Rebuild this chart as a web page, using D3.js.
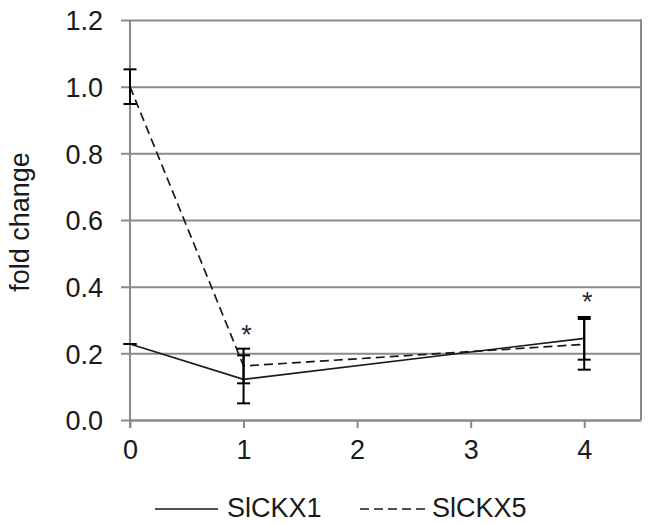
<!DOCTYPE html>
<html>
<head>
<meta charset="utf-8">
<script src="https://cdn.jsdelivr.net/npm/d3@7"></script>
<style>
  html, body { margin: 0; padding: 0; background: #fff; }
  svg { display: block; font-family: "Liberation Sans", Arial, sans-serif; }
</style>
</head>
<body>
<svg id="chart" width="648" height="524"></svg>
<script>
// ---- data ----
const days = [0, 1, 4];
const seriesNames = ["SlCKX1", "SlCKX5"];
const ckx1Values = [0.228, 0.122, 0.245];
const ckx1Errors = [0, 0.072, 0.064];
const ckx5Values = [1.0, 0.162, 0.227];
const ckx5Errors = [0.052, 0.052, 0.076];
const sigDays = [1, 4];
const sigLevels = [0.273, 0.373];
const yTicks = [0.0, 0.2, 0.4, 0.6, 0.8, 1.0, 1.2];
const xTicks = [0, 1, 2, 3, 4];

// ---- layout ----
const W = 648, H = 524;
const m = { left: 130, right: 7, top: 20, bottom: 104 };
const svg = d3.select("#chart");
const gridColor = "#8a8a8a";
const fontSize = 27;

const x = d3.scaleLinear().domain([0, 4.5]).range([m.left, W - m.right]);
const y = d3.scaleLinear().domain([0, 1.2]).range([H - m.bottom, m.top]);

// y axis with gridlines
const yAxis = d3.axisLeft(y)
  .tickValues(yTicks)
  .tickFormat(d3.format(".1f"))
  .tickSize(-(W - m.right - m.left))
  .tickSizeOuter(0)
  .tickPadding(0);
const gy = svg.append("g").attr("transform", `translate(${m.left},0)`).call(yAxis);
gy.select(".domain").remove();
gy.selectAll(".tick line")
  .attr("x1", -9)
  .attr("stroke", gridColor).attr("stroke-width", 2);
gy.selectAll(".tick text")
  .attr("x", -27)
  .attr("dy", "0.36em")
  .attr("fill", "#1a1a1a")
  .style("font-size", fontSize + "px")
  .style("font-family", "'Liberation Sans', Arial, sans-serif");

// x axis
const xAxis = d3.axisBottom(x)
  .tickValues(xTicks)
  .tickFormat(d3.format("d"))
  .tickSize(8)
  .tickSizeOuter(0)
  .tickPadding(12);
const gx = svg.append("g").attr("transform", `translate(0,${y(0)})`).call(xAxis);
gx.select(".domain").attr("stroke", gridColor).attr("stroke-width", 2);
gx.selectAll(".tick line").attr("stroke", gridColor).attr("stroke-width", 2);
gx.selectAll(".tick text")
  .attr("fill", "#1a1a1a")
  .style("font-size", fontSize + "px")
  .style("font-family", "'Liberation Sans', Arial, sans-serif");

// y axis line and right border
svg.append("line")
  .attr("x1", x(0)).attr("x2", x(0))
  .attr("y1", y(1.2)).attr("y2", y(0) + 8)
  .attr("stroke", gridColor).attr("stroke-width", 2);
svg.append("line")
  .attr("x1", x(4.5)).attr("x2", x(4.5))
  .attr("y1", y(1.2) - 1).attr("y2", y(0))
  .attr("stroke", gridColor).attr("stroke-width", 2);

// y label
svg.append("text")
  .attr("transform", `translate(29,${(y(0) + y(1.2)) / 2 + 2}) rotate(-90)`)
  .attr("text-anchor", "middle")
  .attr("fill", "#1a1a1a")
  .style("font-size", fontSize + "px")
  .text("fold change");

// ---- series ----
const series = [
  { name: seriesNames[0], values: ckx1Values, errors: ckx1Errors, dash: null, width: 1.7 },
  { name: seriesNames[1], values: ckx5Values, errors: ckx5Errors, dash: "9,5", width: 1.7 }
];

const line = d3.line().x(d => x(d.day)).y(d => y(d.v));

series.forEach(s => {
  const pts = days.map((dd, i) => ({ day: dd, v: s.values[i], e: s.errors[i] }));
  svg.append("path")
    .datum(pts)
    .attr("d", line)
    .attr("fill", "none")
    .attr("stroke", "#1a1a1a")
    .attr("stroke-width", s.width)
    .attr("stroke-dasharray", s.dash);
  const eg = svg.append("g");
  pts.forEach(p => {
    const cx = x(p.day), yt = y(p.v + p.e), yb = y(p.v - p.e);
    eg.append("line").attr("x1", cx).attr("x2", cx).attr("y1", yt).attr("y2", yb)
      .attr("stroke", "#000").attr("stroke-width", 2);
    [yt, yb].forEach(yy => {
      eg.append("line").attr("x1", cx - 6.5).attr("x2", cx + 6.5).attr("y1", yy).attr("y2", yy)
        .attr("stroke", "#000").attr("stroke-width", 2);
    });
  });
});

// significance asterisks
svg.append("g").selectAll("text")
  .data(sigDays.map((dd, i) => ({ day: dd, v: sigLevels[i] })))
  .join("text")
  .attr("x", d => x(d.day) + 3)
  .attr("y", d => y(d.v) + 15)
  .attr("text-anchor", "middle")
  .attr("fill", "#2a2a3a")
  .style("font-size", fontSize + "px")
  .text("*");

// ---- legend ----
const legendItems = [
  { name: seriesNames[0], dash: null, x1: 155, x2: 218, tx: 227 },
  { name: seriesNames[1], dash: "9,5", x1: 360, x2: 425, tx: 432 }
];
const lg = svg.append("g");
legendItems.forEach(it => {
  lg.append("line")
    .attr("x1", it.x1).attr("x2", it.x2).attr("y1", 509).attr("y2", 509)
    .attr("stroke", "#1a1a1a").attr("stroke-width", 1.7)
    .attr("stroke-dasharray", it.dash);
  lg.append("text")
    .attr("x", it.tx).attr("y", 517)
    .attr("fill", "#1a1a1a")
    .style("font-size", fontSize + "px")
    .text(it.name);
});
</script>
</body>
</html>
